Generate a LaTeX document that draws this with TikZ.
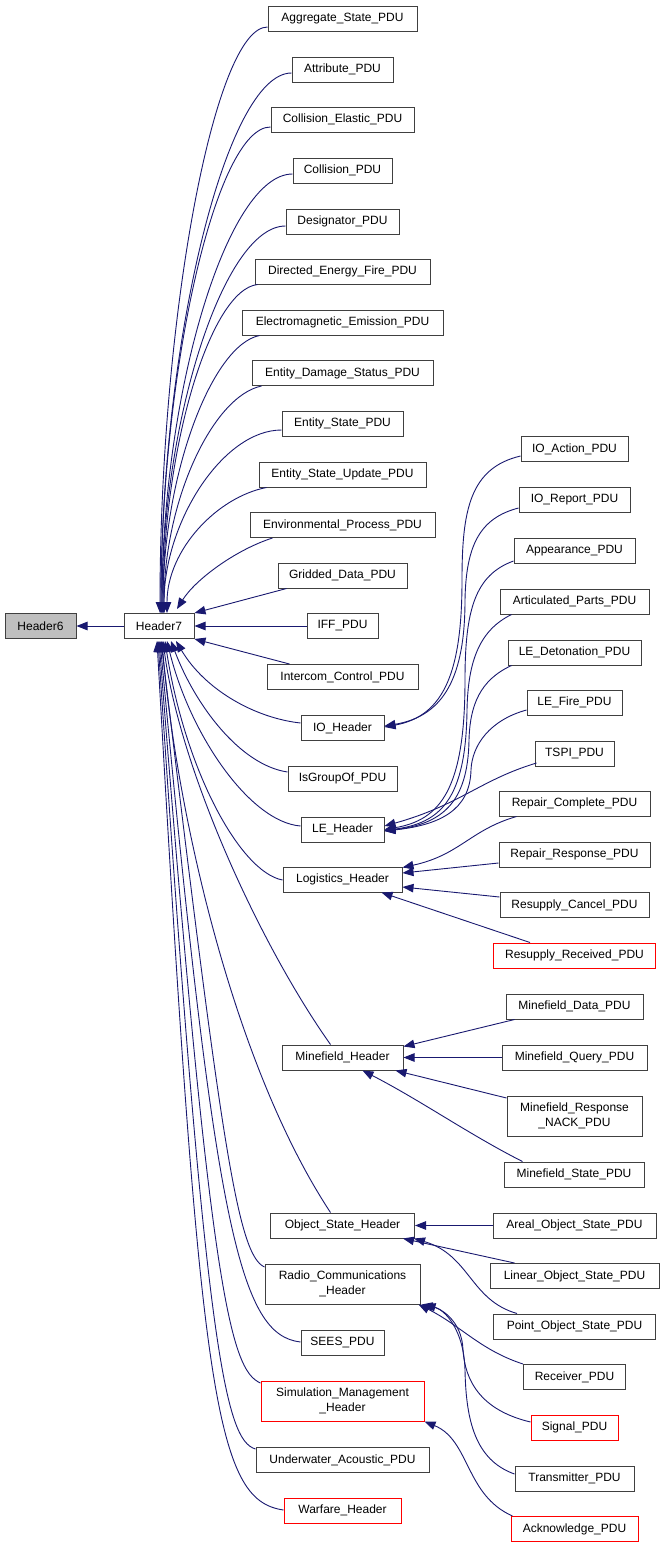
\documentclass[tikz,border=0pt]{standalone}
\usepackage{fontspec}
\setmainfont{Liberation Sans}
\usetikzlibrary{arrows.meta,calc}
\definecolor{navyedge}{HTML}{191970}
\definecolor{boxgray}{HTML}{404040}
\definecolor{boxred}{HTML}{FF0000}
\definecolor{rootfill}{HTML}{BFBFBF}
\newcommand\lbl{\fontsize{12}{14.5}\selectfont}
\begin{document}
\begin{tikzpicture}[x=1pt,y=-1pt,
  box/.style={draw=boxgray, line width=1pt, fill=white, minimum height=25pt, inner sep=0pt, align=center, font=\lbl},
  redbox/.style={box, draw=boxred},
  tall/.style={minimum height=40pt},
  edge/.style={draw=navyedge, line width=0.9pt, -{Triangle[length=11pt,width=8.5pt]}}]
\useasboundingbox[fill=white] (0,0) rectangle (664,1548);
% roots
\node[box, fill=rootfill, minimum width=71pt] (h6) at (40.5,626) {Header6};
\node[box, minimum width=70pt] (h7) at (159,626) {Header7};
% middle column
\node[box, minimum width=149pt] (agg) at (342.5,18.5) {Aggregate\_State\_PDU};
\node[box, minimum width=101pt] (attr) at (342.5,69.5) {Attribute\_PDU};
\node[box, minimum width=143pt] (colel) at (342.5,119.5) {Collision\_Elastic\_PDU};
\node[box, minimum width=99pt] (col) at (342.5,170.5) {Collision\_PDU};
\node[box, minimum width=113pt] (des) at (342.5,221.5) {Designator\_PDU};
\node[box, minimum width=175pt] (def) at (342.5,271.5) {Directed\_Energy\_Fire\_PDU};
\node[box, minimum width=201pt] (em) at (342.5,322.5) {Electromagnetic\_Emission\_PDU};
\node[box, minimum width=181pt] (eds) at (342.5,373) {Entity\_Damage\_Status\_PDU};
\node[box, minimum width=121pt] (es) at (342.5,423.5) {Entity\_State\_PDU};
\node[box, minimum width=167pt] (esu) at (342.5,474.5) {Entity\_State\_Update\_PDU};
\node[box, minimum width=185pt] (env) at (342.5,525) {Environmental\_Process\_PDU};
\node[box, minimum width=129pt] (grid) at (342.5,575.5) {Gridded\_Data\_PDU};
\node[box, minimum width=71pt] (iff) at (342.5,626) {IFF\_PDU};
\node[box, minimum width=151pt] (ic) at (342.5,677) {Intercom\_Control\_PDU};
\node[box, minimum width=83pt] (ioh) at (342.5,728) {IO\_Header};
\node[box, minimum width=109pt] (isg) at (342.5,778.5) {IsGroupOf\_PDU};
\node[box, minimum width=83pt] (leh) at (342.5,829.5) {LE\_Header};
\node[box, minimum width=119pt] (logh) at (342.5,879.5) {Logistics\_Header};
\node[box, minimum width=121pt] (mfh) at (342.5,1057.5) {Minefield\_Header};
\node[box, minimum width=144pt] (osh) at (342.5,1225.5) {Object\_State\_Header};
\node[box, tall, minimum width=155pt] (rch) at (342.5,1284) {Radio\_Communications\\\_Header};
\node[box, minimum width=83pt] (sees) at (342.5,1342.5) {SEES\_PDU};
\node[redbox, tall, minimum width=163pt] (smh) at (342.5,1401) {Simulation\_Management\\\_Header};
\node[box, minimum width=173pt] (uw) at (342.5,1460) {Underwater\_Acoustic\_PDU};
\node[redbox, minimum width=117pt] (wf) at (342.5,1510.5) {Warfare\_Header};
% right column
\node[box, minimum width=107pt] (ioa) at (574.5,449) {IO\_Action\_PDU};
\node[box, minimum width=111pt] (ior) at (574.5,499.5) {IO\_Report\_PDU};
\node[box, minimum width=121pt] (app) at (574.5,550.5) {Appearance\_PDU};
\node[box, minimum width=149pt] (art) at (574.5,601.5) {Articulated\_Parts\_PDU};
\node[box, minimum width=133pt] (led) at (574.5,652.5) {LE\_Detonation\_PDU};
\node[box, minimum width=95pt] (lef) at (574.5,702.5) {LE\_Fire\_PDU};
\node[box, minimum width=79pt] (tspi) at (574.5,753.5) {TSPI\_PDU};
\node[box, minimum width=151pt] (rc) at (574.5,803.5) {Repair\_Complete\_PDU};
\node[box, minimum width=151pt] (rr) at (574.5,854.5) {Repair\_Response\_PDU};
\node[box, minimum width=149pt] (rsc) at (574.5,905) {Resupply\_Cancel\_PDU};
\node[redbox, minimum width=162pt] (rsr) at (574.5,955.5) {Resupply\_Received\_PDU};
\node[box, minimum width=137pt] (mfd) at (574.5,1006.5) {Minefield\_Data\_PDU};
\node[box, minimum width=145pt] (mfq) at (574.5,1057.5) {Minefield\_Query\_PDU};
\node[box, tall, minimum width=135pt] (mfn) at (574.5,1116) {Minefield\_Response\\\_NACK\_PDU};
\node[box, minimum width=140pt] (mfs) at (574,1174.5) {Minefield\_State\_PDU};
\node[box, minimum width=163pt] (areal) at (574.5,1225.5) {Areal\_Object\_State\_PDU};
\node[box, minimum width=169pt] (lin) at (574.5,1276) {Linear\_Object\_State\_PDU};
\node[box, minimum width=162pt] (pt) at (574.5,1326.5) {Point\_Object\_State\_PDU};
\node[box, minimum width=102pt] (rcv) at (574.5,1377) {Receiver\_PDU};
\node[redbox, minimum width=87pt] (sig) at (574.5,1427.5) {Signal\_PDU};
\node[box, minimum width=119pt] (tx) at (574.5,1478.5) {Transmitter\_PDU};
\node[redbox, minimum width=127pt] (ack) at (574.5,1529) {Acknowledge\_PDU};
% edges
\draw[edge] (h7.west) -- (h6.east);
% upper children into Header7 top
\draw[edge] ($(agg.west)+(0,8.5)$) .. controls (214,27) and (160,320) .. ($(h7.north)+(1,0)$);
\draw[edge] ($(attr.west)+(0,3.5)$) .. controls (226,73) and (161,343) .. ($(h7.north)+(2,0)$);
\draw[edge] ($(colel.west)+(0,7.5)$) .. controls (216,127) and (161,370) .. ($(h7.north)+(2,0)$);
\draw[edge] ($(col.west)+(0,3.5)$) .. controls (227,174) and (162,393) .. ($(h7.north)+(3,0)$);
\draw[edge] ($(des.west)+(0,4.5)$) .. controls (224,226) and (162,420) .. ($(h7.north)+(3,0)$);
\draw[edge] ($(def.south west)+(3,0)$) .. controls (210,290) and (163,448) .. ($(h7.north)+(4,0)$);
\draw[edge] ($(em.south west)+(18,0)$) .. controls (212,345) and (163,474) .. ($(h7.north)+(4,0)$);
\draw[edge] ($(eds.south west)+(10,0)$) .. controls (213,396) and (164,500) .. ($(h7.north)+(5,0)$);
\draw[edge] ($(es.west)+(0,6.5)$) .. controls (223,430) and (164,522) .. ($(h7.north)+(5,0)$);
\draw[edge] ($(esu.south west)+(8,0)$) .. controls (217,497) and (167,550) .. ($(h7.north)+(8,0)$);
\draw[edge] ($(env.south west)+(23,0)$) .. controls (235,550) and (195,580) .. ($(h7.north)+(18,-4)$);
\draw[edge] ($(grid.south west)+(9,0)$) -- (h7.north east);
\draw[edge] (iff.west) -- (h7.east);
\draw[edge] ($(ic.north west)+(23,0)$) -- (h7.south east);
% lower children into Header7 bottom
\draw[edge] ($(ioh.west)+(0,-5)$) .. controls (255,718) and (205,690) .. ($(h7.south)+(17,2)$);
\draw[edge] ($(isg.west)+(0,-6.5)$) .. controls (240,765) and (195,705) .. ($(h7.south)+(12,2)$);
\draw[edge] ($(leh.west)+(0,-3.5)$) .. controls (250,822) and (190,735) .. ($(h7.south)+(8,2)$);
\draw[edge] ($(logh.west)+(0,0.5)$) .. controls (240,872) and (185,770) .. ($(h7.south)+(6,2)$);
\draw[edge] ($(mfh.north)+(-12,0)$) .. controls (260,945) and (180,770) .. ($(h7.south)+(4,2)$);
\draw[edge] ($(osh.north)+(-12,0)$) .. controls (230,1060) and (175,800) .. ($(h7.south)+(3,2)$);
\draw[edge] ($(rch.west)+(0,-17)$) .. controls (238,1255) and (222,1150) .. ($(h7.south)+(2,2)$);
\draw[edge] ($(sees.west)+(0,-0.5)$) .. controls (240,1335) and (215,1230) .. ($(h7.south)+(1,2)$);
\draw[edge] ($(smh.west)+(0,-18)$) .. controls (230,1370) and (210,1290) .. ($(h7.south)+(0,2)$);
\draw[edge] ($(uw.west)+(0,-11)$) .. controls (225,1440) and (205,1350) .. ($(h7.south)+(-1,2)$);
\draw[edge] ($(wf.west)+(0,-0.5)$) .. controls (215,1500) and (200,1400) .. ($(h7.south)+(-2,2)$);
% IO_Header children
\draw[edge] ($(ioa.west)+(0,7)$) .. controls (470,468) and (462,510) .. (462,580) .. controls (462,670) and (445,716) .. ($(ioh.east)+(0,-1)$);
\draw[edge] ($(ior.west)+(0,8.5)$) .. controls (480,518) and (466,545) .. (465,600) .. controls (465,675) and (445,716) .. ($(ioh.east)+(0,-2)$);
% LE_Header children
\draw[edge] ($(app.west)+(0,10.5)$) .. controls (475,575) and (465,610) .. (465,680) .. controls (465,790) and (440,820) .. ($(leh.east)+(0,0)$);
\draw[edge] ($(art.south west)+(12,0)$) .. controls (480,630) and (468,660) .. (467,710) .. controls (466,800) and (440,823) .. ($(leh.east)+(0,1)$);
\draw[edge] ($(led.south west)+(4,0)$) .. controls (480,680) and (470,705) .. (469,740) .. controls (468,805) and (440,824) .. ($(leh.east)+(0,1.5)$);
\draw[edge] ($(lef.west)+(0,7.5)$) .. controls (490,720) and (472,745) .. (471,770) .. controls (470,810) and (440,825) .. ($(leh.east)+(0,1.5)$);
\draw[edge] ($(tspi.west)+(2,9.5)$) .. controls (480,780) and (460,805) .. ($(leh.east)+(0,-3.5)$);
% Logistics_Header children
\draw[edge] ($(rc.south west)+(18,0)$) .. controls (470,830) and (460,855) .. ($(logh.north east)+(0,1)$);
\draw[edge] ($(rr.west)+(0,8.5)$) -- ($(logh.east)+(0,-6.5)$);
\draw[edge] ($(rsc.west)+(0,-8)$) -- ($(logh.east)+(0,7.5)$);
\draw[edge] ($(rsr.north west)+(37,0)$) -- ($(logh.south)+(39,0)$);
% Minefield_Header children
\draw[edge] ($(mfd.south west)+(9,0)$) -- ($(mfh.north east)+(0,2)$);
\draw[edge] (mfq.west) -- (mfh.east);
\draw[edge] ($(mfn.west)+(0,-18)$) -- ($(mfh.south east)+(-8,0)$);
\draw[edge] ($(mfs.north west)+(19,0)$) .. controls (470,1135) and (420,1100) .. ($(mfh.south)+(20,0)$);
% Object_State_Header children
\draw[edge] (areal.west) -- (osh.east);
\draw[edge] ($(lin.north west)+(25,0)$) -- ($(osh.south east)+(-12,0)$);
\draw[edge] ($(pt.north west)+(24,0)$) .. controls (470,1300) and (470,1255) .. ($(osh.south east)+(-1,0)$);
% Radio_Communications_Header children
\draw[edge] ($(rcv.north west)+(0,0)$) .. controls (480,1350) and (460,1325) .. ($(rch.south east)+(-2,0)$);
\draw[edge] ($(sig.west)+(0,-5.5)$) .. controls (480,1410) and (465,1380) .. (463,1350) .. controls (462,1320) and (440,1308) .. ($(rch.south east)+(1,0)$);
\draw[edge] ($(tx.west)+(0,-4.5)$) .. controls (475,1460) and (466,1420) .. (465,1370) .. controls (464,1330) and (445,1310) .. ($(rch.south east)+(4,0)$);
% Simulation_Management_Header child
\draw[edge] ($(ack.north west)+(2,0)$) .. controls (465,1495) and (470,1440) .. ($(smh.south east)+(0,0)$);
\end{tikzpicture}
\end{document}
